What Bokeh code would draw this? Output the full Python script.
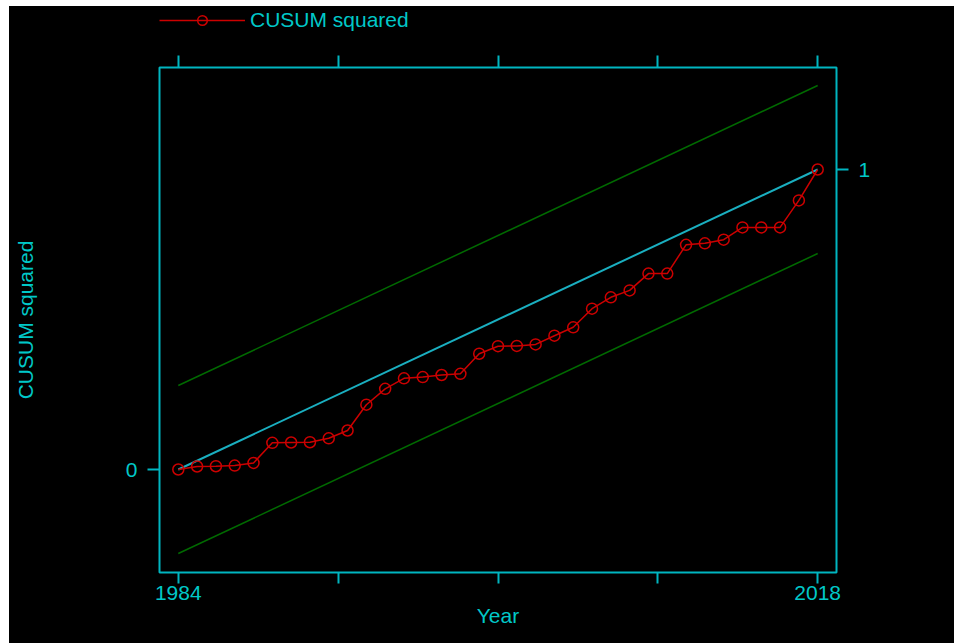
from bokeh.plotting import figure
from bokeh.layouts import column
from bokeh.models import (LinearAxis, FixedTicker, Legend, LegendItem, Range1d,
                          ColumnDataSource)
from bokeh.embed import file_html
from bokeh.resources import INLINE

# ---- data ----
years = list(range(1984, 2019))
cusum_sq = [0.000, 0.010, 0.011, 0.013, 0.022, 0.089, 0.090, 0.091, 0.104, 0.130,
            0.216, 0.269, 0.304, 0.308, 0.315, 0.319, 0.386, 0.411, 0.412, 0.417,
            0.446, 0.474, 0.536, 0.574, 0.597, 0.653, 0.653, 0.749, 0.754, 0.766,
            0.807, 0.807, 0.807, 0.897, 1.000]

line_years = [1984, 2018]
expected = [0.0, 1.0]
upper_bound = [0.28, 1.28]
lower_bound = [-0.28, 0.72]

x_labeled_ticks = [1984, 2018]
x_unlabeled_ticks = [1992.5, 2001, 2009.5]
left_ticks = [0]
right_ticks = [1]

x_title = "Year"
y_title = "CUSUM squared"
legend_label = "CUSUM squared"

# ---- styles ----
CYAN_TXT = "#00C8C8"
CYAN_AX = "#00B5C0"
RED = "#CC0000"
GREEN = "#006A00"
FONT = "Liberation Sans"
FS = "21px"
W = 945
TOP_H = 40
MAIN_H = 597

LINE_STYLE = dict(line_color=RED, line_width=1.5)
MARK_STYLE = dict(marker="circle", size=11, line_color=RED, line_width=1.5,
                  fill_color=None)

src = ColumnDataSource(data=dict(year=years, cusum=cusum_sq))

# ---- legend strip (above the main plot); its frame shows none of the data ----
lf = figure(width=W, height=TOP_H, x_range=Range1d(0, 1), y_range=Range1d(0, 1),
            output_backend="svg", toolbar_location=None,
            x_axis_type=None, y_axis_type=None,
            background_fill_color="black", border_fill_color="black",
            outline_line_color=None,
            min_border_left=0, min_border_right=0,
            min_border_top=0, min_border_bottom=0)
lf.xgrid.visible = False
lf.ygrid.visible = False
lg_line = lf.line("year", "cusum", source=src, **LINE_STYLE)
lg_pts = lf.scatter("year", "cusum", source=src, **MARK_STYLE)
legend = Legend(items=[LegendItem(label=legend_label, renderers=[lg_line, lg_pts])],
                location=(0, 14), orientation="horizontal",
                glyph_width=86, glyph_height=24, label_height=24,
                padding=0, margin=0, spacing=0, label_standoff=5,
                background_fill_alpha=0, border_line_color=None,
                label_text_color=CYAN_TXT, label_text_font=FONT,
                label_text_font_size=FS)
lf.add_layout(legend)

# ---- main plot ----
p = figure(width=W, height=MAIN_H,
           x_range=Range1d(1983, 2019), y_range=Range1d(-0.3433, 1.34),
           output_backend="svg", toolbar_location=None,
           background_fill_color="black", border_fill_color="black",
           outline_line_color=CYAN_AX, outline_line_width=2,
           min_border_left=150, min_border_right=118,
           min_border_top=21, min_border_bottom=71,
           x_axis_location="below", y_axis_location="left")
p.xgrid.visible = False
p.ygrid.visible = False

def style_axis(ax, ticks, minor, tick_len, standoff):
    ax.ticker = FixedTicker(ticks=ticks, minor_ticks=minor)
    ax.axis_line_color = None
    for pre in ("major", "minor"):
        setattr(ax, pre + "_tick_line_color", CYAN_AX)
        setattr(ax, pre + "_tick_line_width", 2)
        setattr(ax, pre + "_tick_out", tick_len)
        setattr(ax, pre + "_tick_in", 0)
    ax.major_label_text_color = CYAN_TXT
    ax.major_label_text_font = FONT
    ax.major_label_text_font_size = FS
    ax.major_label_standoff = standoff
    ax.axis_label_text_color = CYAN_TXT
    ax.axis_label_text_font = FONT
    ax.axis_label_text_font_size = FS
    ax.axis_label_text_font_style = "normal"

# bottom axis
xb = p.xaxis[0]
style_axis(xb, x_labeled_ticks, x_unlabeled_ticks, 11, 2)
xb.axis_label = x_title
xb.axis_label_standoff = 1

# left axis
yl = p.yaxis[0]
style_axis(yl, left_ticks, [], 12, 10)
yl.axis_label = y_title
yl.axis_label_standoff = 86

# right axis
yr = LinearAxis()
style_axis(yr, right_ticks, [], 12, 10)
p.add_layout(yr, "right")

# top axis (ticks only)
xt = LinearAxis()
style_axis(xt, [], x_labeled_ticks + x_unlabeled_ticks, 12, 0)
p.add_layout(xt, "above")

# bounds and expected line
p.line(line_years, upper_bound, line_color=GREEN, line_width=1.5)
p.line(line_years, lower_bound, line_color=GREEN, line_width=1.5)
p.line(line_years, expected, line_color="#1AAFC0", line_width=2)

p.line("year", "cusum", source=src, **LINE_STYLE)
p.scatter("year", "cusum", source=src, **MARK_STYLE)

layout = column(lf, p, spacing=0)
layout.margin = (6, 0, 0, 9)
layout.background = "black"

open("out.html", "w").write(file_html(layout, INLINE))
